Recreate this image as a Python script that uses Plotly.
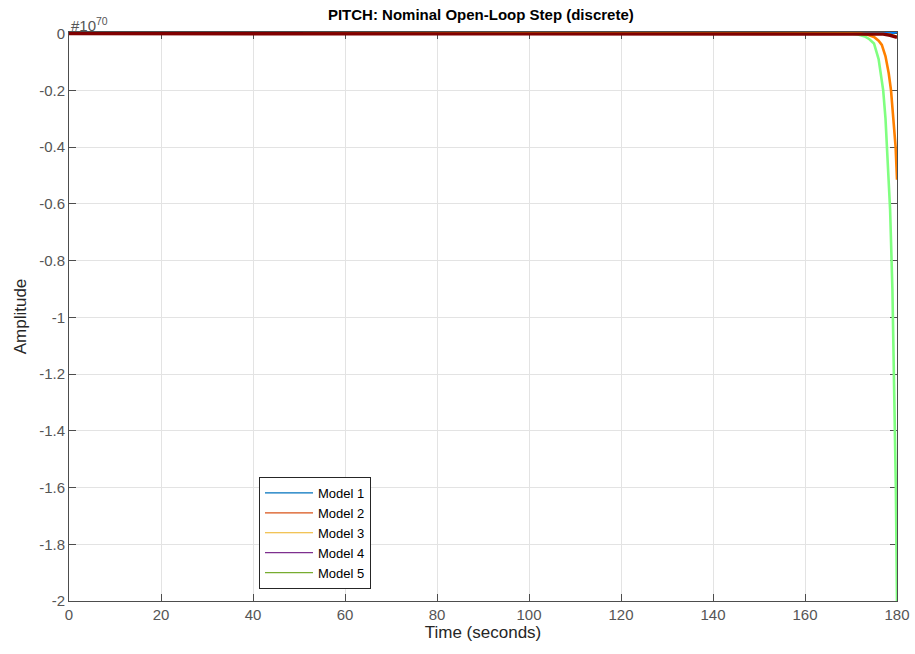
import plotly.graph_objects as go

# Open-loop step responses of the pitch channel, amplitude in units of 1e70
EXP = 70

t_m1 = [0, 170, 177, 178, 179, 179.5, 180]
y_m1 = [0, 0, 0, 0.0005, 0.002, 0.004, 0.006]

t_m2 = [0, 172, 173.5, 175, 176, 176.7, 177.5, 178.2, 178.7, 179.2, 179.7, 180]
y_m2 = [0, 0, -0.003, -0.012, -0.025, -0.04, -0.08, -0.14, -0.2, -0.29, -0.4, -0.515]

t_m3 = [0, 175, 177, 178.5, 179.5, 180]
y_m3 = [0, 0, -0.001, -0.004, -0.008, -0.011]

t_m4 = [0, 175, 177, 178.5, 179.5, 180]
y_m4 = [0, 0, -0.002, -0.006, -0.01, -0.013]

t_m5 = [0, 170, 171.5, 173, 174, 175, 176, 176.5, 177, 177.5, 178, 178.5,
        179, 179.5, 179.75, 180]
y_m5 = [0, 0, -0.003, -0.01, -0.02, -0.035, -0.09, -0.14, -0.2, -0.3, -0.45,
        -0.62, -0.9, -1.35, -1.6, -2.0]

names = ["Model 1", "Model 2", "Model 3", "Model 4", "Model 5"]
line_colors = ["#0080ff", "#ff8000", "#ffff00", "#800000", "#80ff80"]
legend_colors = ["#0072BD", "#D95319", "#EDB120", "#7E2F8E", "#77AC30"]

x_ticks = [0, 20, 40, 60, 80, 100, 120, 140, 160, 180]
y_ticks = [0, -0.2, -0.4, -0.6, -0.8, -1, -1.2, -1.4, -1.6, -1.8, -2]
y_tick_text = ["0", "-0.2", "-0.4", "-0.6", "-0.8", "-1", "-1.2", "-1.4",
               "-1.6", "-1.8", "-2"]

series = [(t_m1, y_m1), (t_m2, y_m2), (t_m3, y_m3), (t_m4, y_m4), (t_m5, y_m5)]
draw_order = [0, 4, 1, 2, 3]
line_widths = [2.4, 2.6, 2.4, 3.4, 2.6]

fig = go.Figure()
for i in draw_order:
    tx, ty = series[i]
    fig.add_trace(go.Scatter(
        x=tx, y=ty, mode="lines", showlegend=False,
        line=dict(color=line_colors[i], width=line_widths[i]),
    ))

# legend entries
for name, col in zip(names, legend_colors):
    fig.add_trace(go.Scatter(
        x=[None], y=[None], mode="lines", name=name,
        line=dict(color=col, width=1.2),
    ))

axis_col = "#4d4d4d"
fig.update_layout(
    width=915, height=654,
    margin=dict(l=69, r=18, t=32, b=53, autoexpand=False),
    paper_bgcolor="white", plot_bgcolor="white",
    font=dict(family="Liberation Sans, Arial, sans-serif", color="#262626"),
    title=dict(text="<b>PITCH: Nominal Open-Loop Step (discrete)</b>",
               x=0.5255, xanchor="center", y=0.977, yanchor="middle",
               font=dict(size=15, color="black")),
    showlegend=True,
    legend=dict(
        x=(259 - 69) / 828, y=(601 - 477) / 569, xanchor="left", yanchor="top",
        bgcolor="white", bordercolor="#262626", borderwidth=1,
        font=dict(size=13, color="black"), tracegroupgap=0,
        itemwidth=48,
    ),
)

fig.update_xaxes(
    range=[0, 180], tickvals=x_ticks, automargin=False,
    showgrid=True, gridcolor="#e3e3e3", gridwidth=1,
    showline=True, linecolor=axis_col, linewidth=1, mirror="ticks",
    ticks="inside", ticklen=7, tickcolor=axis_col,
    tickfont=dict(size=15, color="#555555"),
    zeroline=False, layer="below traces",
    title=dict(text="Time (seconds)", font=dict(size=17, color="#262626"), standoff=4),
)
fig.update_yaxes(
    range=[-2, 0.0055], tickvals=y_ticks, ticktext=y_tick_text, automargin=False,
    showgrid=True, gridcolor="#e3e3e3", gridwidth=1,
    showline=True, linecolor=axis_col, linewidth=1, mirror="ticks",
    ticks="inside", ticklen=7, tickcolor=axis_col,
    tickfont=dict(size=15, color="#555555"),
    zeroline=False, layer="below traces",
    title=dict(text="Amplitude", font=dict(size=17, color="#262626"), standoff=8),
)

fig.add_annotation(
    text="#10<sup>%d</sup>" % EXP, xref="paper", yref="paper",
    x=0, y=1, xanchor="left", yanchor="bottom", showarrow=False,
    font=dict(size=15, color="#555555"), yshift=-4,
)

fig.write_html("out.html")
